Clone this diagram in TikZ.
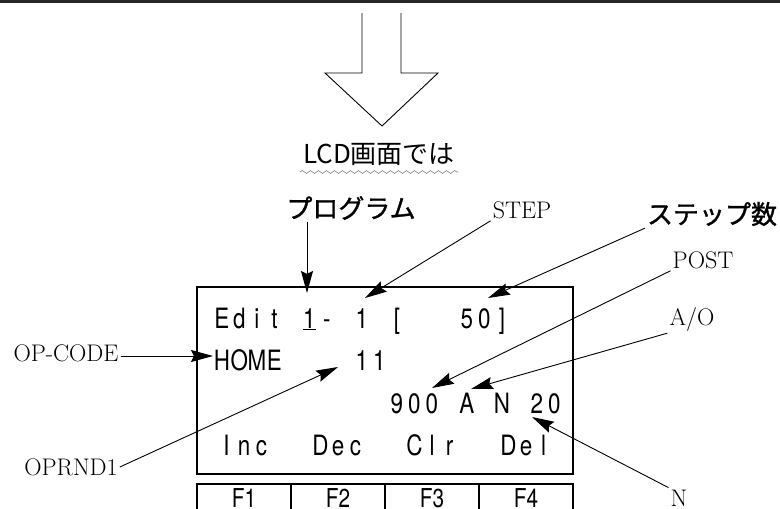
\documentclass[tikz,border=0pt]{standalone}
\usepackage{fontspec}
\usetikzlibrary{arrows.meta, decorations.pathmorphing}
\newfontfamily\lcdfont[FakeStretch=0.8]{TeX Gyre Heros}
\newfontfamily\jpfont{Noto Sans CJK JP}
\newfontfamily\jpbold[FakeBold=1.2]{Noto Sans CJK JP}

% one character per fixed cell, like the LCD
\newdimen\lcdpitch \lcdpitch=17.5pt
\def\lcdrow#1{\lcdnext#1\relax}
\def\lcdnext#1{\ifx\relax#1\else\hbox to\lcdpitch{\hss#1\hss}\expandafter\lcdnext\fi}

\tikzset{
  lbl/.style   = {font=\fontsize{24}{28}\selectfont, inner sep=2pt},
  jlbl/.style  = {font=\jpbold\fontsize{26}{30}\selectfont, inner sep=2pt},
  lcd/.style   = {font=\lcdfont\fontsize{28}{32}\selectfont, inner sep=0pt, anchor=base west},
  fkey/.style  = {font=\lcdfont\fontsize{26}{30}\selectfont, inner sep=0pt, anchor=base},
  ptr/.style   = {-{Stealth[length=22pt,width=12pt,inset=3pt]}, line width=0.9pt},
  frame/.style = {line width=1.2pt}
}

\begin{document}
\begin{tikzpicture}[x=1pt, y=-1pt]
\useasboundingbox (0,0) rectangle (780,509);
\clip (0,0) rectangle (780,509);

% top rule
\fill[black!85] (0,0) rectangle (780,2.5);

% big down arrow
\draw[line width=0.9pt] (362,13) -- (362,73) -- (325,73) -- (382,126) -- (438,73) -- (401,73) -- (401,13);

% LCD caption
\node[font=\jpfont\fontsize{26}{30}\selectfont, inner sep=0pt] (lcdcap) at (379,154) {LCD画面では};
\draw[gray, line width=0.6pt, decorate, decoration={snake, amplitude=1.5pt, segment length=8pt}] (300,172) -- (458,172);

% screen
\draw[frame] (197,287) rectangle (573,474);

% function keys
\draw[frame] (197,484) rectangle (573,530);
\foreach \x in {291,385,479} \draw[frame] (\x,484) -- (\x,530);
\foreach \x [count=\i] in {244,338,432,526} \node[fkey] (key\i) at (\x,507) {F\i};

% screen text
\node[lcd] (row1) at (213,328) {\lcdrow{Edit~{\underline{1}}-~1~[~~~50]}};
\node[lcd] (row2) at (213,370) {\lcdrow{HOME~~~~11}};
\node[lcd] (row3) at (388,413) {\lcdrow{900~A~N~20}};
\foreach \x/\t [count=\i] in {244/Inc, 338/Dec, 432/Clr, 526/Del}
  \node[fkey, font=\lcdfont\fontsize{28}{32}\selectfont] (soft\i) at (\x,455) {\expandafter\lcdrow\expandafter{\t}};

% arrow targets on the screen
\coordinate (tProg)  at (307,293);
\coordinate (tStep)  at (365,298);
\coordinate (tSteps) at (488,298);
\coordinate (tHome)  at (213,356);
\coordinate (tOprnd) at (338,367);
\coordinate (tPost)  at (432,388);
\coordinate (tAO)    at (471,389);
\coordinate (tN)     at (532,417);

% labels
\node[jlbl] (prog)   at (351,208) {プログラム};
\node[jlbl] (steps)  at (712,214) {ステップ数};
\node[lbl]  (step)   at (522,210) {STEP};
\node[lbl]  (post)   at (703,260) {POST};
\node[lbl]  (ao)     at (692,319) {A/O};
\node[lbl]  (opcode) at (66,353)  {OP-CODE};
\node[lbl]  (oprnd)  at (71,467)  {OPRND1};
\node[lbl]  (nlbl)   at (679,498) {N};

% pointers
\draw[ptr] (prog.south -| tProg) -- (tProg);
\draw[ptr] (step.south west) -- (tStep);
\draw[ptr] (steps.south west) -- (tSteps);
\draw[ptr] (post.south west) -- (tPost);
\draw[ptr] (ao.south west) -- (tAO);
\draw[ptr] (opcode.east |- tHome) -- (tHome);
\draw[ptr] (oprnd.east) -- (tOprnd);
\draw[ptr] (nlbl.north west) -- (tN);

\end{tikzpicture}
\end{document}
